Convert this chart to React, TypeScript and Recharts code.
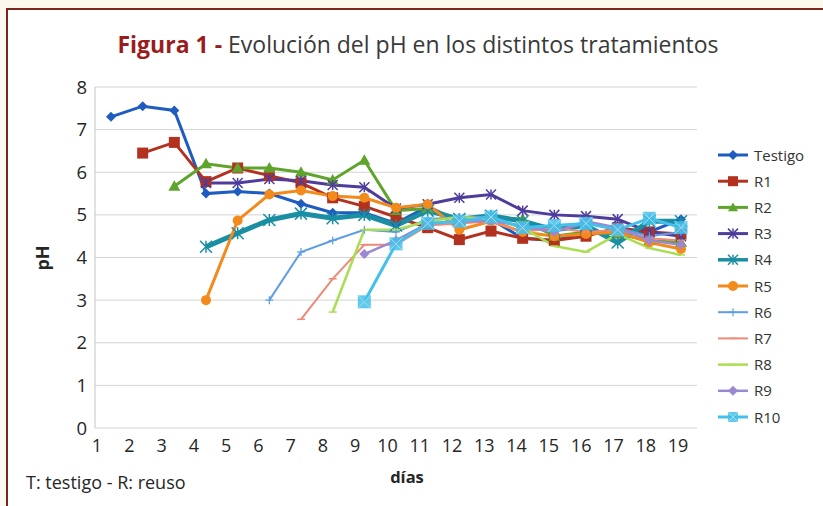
import React from 'react';
import { LineChart, Line, XAxis, YAxis, CartesianGrid } from 'recharts';

const days = ['1','2','3','4','5','6','7','8','9','10','11','12','13','14','15','16','17','18','19'];
const yTicks = [0, 1, 2, 3, 4, 5, 6, 7, 8];
const N = null;
const testigo = [7.3, 7.55, 7.45, 5.5, 5.55, 5.5, 5.26, 5.05, 5.05, 4.8, 5.2, 4.85, 4.9, 4.45, 4.4, 4.6, 4.55, 4.6, 4.9];
const r1 = [N, 6.45, 6.7, 5.78, 6.1, 5.92, 5.75, 5.4, 5.2, 4.95, 4.7, 4.42, 4.62, 4.45, 4.4, 4.5, 4.7, 4.6, 4.55];
const r2 = [N, N, 5.67, 6.2, 6.1, 6.1, 6.0, 5.82, 6.28, 5.1, 5.15, 4.9, 4.95, 4.9, 4.5, 4.6, 4.55, 4.4, 4.35];
const r3 = [N, N, N, 5.75, 5.75, 5.84, 5.8, 5.7, 5.65, 5.15, 5.25, 5.4, 5.48, 5.1, 5.0, 4.97, 4.9, 4.6, 4.5];
const r4 = [N, N, N, 4.25, 4.57, 4.88, 5.03, 4.92, 5.0, 4.75, 5.1, 4.9, 4.98, 4.85, 4.65, 4.75, 4.35, 4.85, 4.85];
const r5 = [N, N, N, 3.0, 4.87, 5.48, 5.57, 5.44, 5.4, 5.17, 5.25, 4.65, 4.85, 4.6, 4.5, 4.55, 4.6, 4.35, 4.2];
const r6 = [N, N, N, N, N, 3.0, 4.13, 4.4, 4.65, 4.6, 4.9, 4.95, 4.95, 4.7, 4.6, 4.8, 4.7, 4.5, 4.6];
const r7 = [N, N, N, N, N, N, 2.55, 3.5, 4.3, 4.3, 4.75, 4.8, 4.85, 4.6, 4.7, 4.6, 4.65, 4.45, 4.4];
const r8 = [N, N, N, N, N, N, N, 2.72, 4.65, 4.65, 4.85, 4.95, 4.9, 4.7, 4.27, 4.13, 4.55, 4.22, 4.06];
const r9 = [N, N, N, N, N, N, N, N, 4.08, 4.4, 4.8, 4.85, 4.85, 4.75, 4.6, 4.85, 4.7, 4.4, 4.3];
const r10 = [N, N, N, N, N, N, N, N, 2.96, 4.32, 4.8, 4.85, 4.95, 4.7, 4.75, 4.8, 4.65, 4.92, 4.7];

const seriesNames = ['Testigo', 'R1', 'R2', 'R3', 'R4', 'R5', 'R6', 'R7', 'R8', 'R9', 'R10'];
const seriesValues = [testigo, r1, r2, r3, r4, r5, r6, r7, r8, r9, r10];

const FONT = '"Open Sans", sans-serif';

const styles = [
  { color: '#1f5cc0', width: 3, shape: 'diamond', size: 5 },
  { color: '#b3321f', width: 3, shape: 'square', size: 5.5 },
  { color: '#5fa52b', width: 3, shape: 'triangle', size: 6 },
  { color: '#4f3c9c', width: 3, shape: 'star', size: 5 },
  { color: '#1a8ea3', width: 5, shape: 'asterisk', size: 6 },
  { color: '#f28a1c', width: 3, shape: 'circle', size: 5 },
  { color: '#5f9de6', width: 2, shape: 'plus', size: 4 },
  { color: '#ee8a78', width: 2, shape: 'dash', size: 4 },
  { color: '#a9de52', width: 2.5, shape: 'dash', size: 4 },
  { color: '#9a88d0', width: 2.5, shape: 'diamond', size: 5 },
  { color: '#45c0ea', width: 3, shape: 'xsquare', size: 6.5 },
];

const data = days.map((d, i) => {
  const row: any = { day: d };
  seriesNames.forEach((n, k) => { row[n] = seriesValues[k][i]; });
  return row;
});

function markerShape(shape: string, cx: number, cy: number, s: number, color: string, key?: any) {
  switch (shape) {
    case 'diamond':
      return <polygon key={key} points={`${cx},${cy - s} ${cx + s},${cy} ${cx},${cy + s} ${cx - s},${cy}`} fill={color} />;
    case 'square':
      return <rect key={key} x={cx - s} y={cy - s} width={2 * s} height={2 * s} fill={color} />;
    case 'triangle':
      return <polygon key={key} points={`${cx},${cy - s} ${cx + s},${cy + s * 0.75} ${cx - s},${cy + s * 0.75}`} fill={color} />;
    case 'circle':
      return <circle key={key} cx={cx} cy={cy} r={s} fill={color} />;
    case 'star':
    case 'asterisk':
      return (
        <g key={key} stroke={color} strokeWidth={1.5}>
          <line x1={cx - s} y1={cy - s} x2={cx + s} y2={cy + s} />
          <line x1={cx - s} y1={cy + s} x2={cx + s} y2={cy - s} />
          <line x1={cx} y1={cy - s} x2={cx} y2={cy + s} />
        </g>
      );
    case 'plus':
      return (
        <g key={key} stroke={color} strokeWidth={1.2}>
          <line x1={cx - s} y1={cy} x2={cx + s} y2={cy} />
          <line x1={cx} y1={cy - s} x2={cx} y2={cy + s} />
        </g>
      );
    case 'dash':
      return <line key={key} x1={cx - s} y1={cy} x2={cx + s} y2={cy} stroke={color} strokeWidth={1.5} />;
    case 'xsquare':
      return (
        <g key={key}>
          <rect x={cx - s} y={cy - s} width={2 * s} height={2 * s} fill={color} opacity={0.85} />
          <line x1={cx - s} y1={cy - s} x2={cx + s} y2={cy + s} stroke="#9fe0f5" strokeWidth={1} />
          <line x1={cx - s} y1={cy + s} x2={cx + s} y2={cy - s} stroke="#9fe0f5" strokeWidth={1} />
        </g>
      );
    default:
      return <g key={key} />;
  }
}

const makeDot = (k: number) => (props: any) => {
  const { cx, cy, index, value } = props;
  if (cx == null || cy == null || value == null || (Array.isArray(value) && value[1] == null)) {
    return <g key={`e-${k}-${index}`} />;
  }
  const st = styles[k];
  return markerShape(st.shape, cx, cy, st.size, st.color, `d-${k}-${index}`);
};

const LegendBox = () => (
  <svg width={100} height={290} style={{ position: 'absolute', left: 715, top: 143 }}>
    {seriesNames.map((n, k) => {
      const y = 12 + k * 26.2;
      const st = styles[k];
      return (
        <g key={n}>
          <line x1={3} y1={y} x2={33} y2={y} stroke={st.color} strokeWidth={Math.min(st.width, 3.5)} />
          {markerShape(st.shape, 18, y, Math.min(st.size, 5), st.color)}
          <text x={39} y={y + 5.5} fontSize={15} fill="#333" fontFamily={FONT}>{n}</text>
        </g>
      );
    })}
  </svg>
);

export default function App() {
  return (
    <div style={{ position: 'absolute', left: 0, top: 0, width: 823, height: 506, background: '#fbf8ee', overflow: 'hidden', fontFamily: FONT }}>
      <div style={{ position: 'absolute', left: 6, top: 8, width: 830, height: 510, background: '#ffffff', borderTop: '2px solid #7b2420', borderLeft: '2px solid #7b2420' }} />
      <div style={{ position: 'absolute', left: 0, top: 0 }}>
        <LineChart width={823} height={506} data={data} margin={{ top: 87, right: 126, bottom: 48, left: 55 }}>
          <CartesianGrid vertical={false} stroke="#d4d4d4" />
          <XAxis xAxisId="main" dataKey="day" padding={{ left: 16, right: 16 }} axisLine={{ stroke: '#c4c4c4' }} tickLine={false} tick={false} height={0} />
          <XAxis xAxisId="labels" dataKey="day" padding={{ left: 2, right: 19 }} axisLine={false} tickLine={false} interval={0} tickMargin={5}
            tick={{ fontSize: 18, fill: '#262626', fontFamily: FONT }} height={30} />
          <YAxis domain={[0, 8]} ticks={yTicks} interval={0} width={40} axisLine={{ stroke: '#c4c4c4' }} tickLine={false}
            tick={{ fontSize: 18.5, fill: '#262626', fontFamily: FONT }} />
          {seriesNames.map((n, k) => (
            <Line key={n} xAxisId="main" dataKey={n} type="linear" stroke={styles[k].color} strokeWidth={styles[k].width}
              dot={makeDot(k)} activeDot={false} isAnimationActive={false} connectNulls={false} />
          ))}
        </LineChart>
      </div>
      <LegendBox />
      <div style={{ position: 'absolute', left: 418, top: 28, transform: 'translateX(-50%)', whiteSpace: 'nowrap', fontSize: 23, color: '#3a3a3a' }}>
        <span style={{ fontWeight: 'bold', color: '#9b1c1c' }}>Figura 1 - </span>Evolución del pH en los distintos tratamientos
      </div>
      <div style={{ position: 'absolute', left: 42, top: 258, transform: 'translate(-50%, -50%) rotate(-90deg)', fontSize: 18, fontWeight: 'bold', color: '#262626' }}>pH</div>
      <div style={{ position: 'absolute', left: 407, top: 465, transform: 'translateX(-50%)', fontSize: 16.5, fontWeight: 'bold', color: '#262626' }}>días</div>
      <div style={{ position: 'absolute', left: 26, top: 470, fontSize: 18, color: '#262626', whiteSpace: 'nowrap' }}>T: testigo - R: reuso</div>
    </div>
  );
}
